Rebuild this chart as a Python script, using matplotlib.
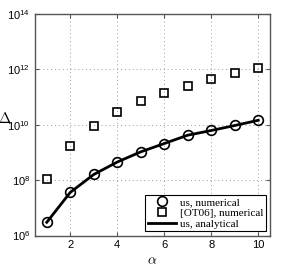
import numpy as np
import matplotlib
matplotlib.use("Agg")
import matplotlib.pyplot as plt
from matplotlib.ticker import LogLocator, NullLocator

alpha = [1, 2, 3, 4, 5, 6, 7, 8, 9, 10]
us_numerical = [3.0e6, 3.6e7, 1.6e8, 4.5e8, 1.05e9, 2.1e9, 4.2e9, 6.2e9, 9.4e9, 1.45e10]
ot06_numerical = [1.1e8, 1.7e9, 9.0e9, 2.8e10, 7.0e10, 1.45e11, 2.6e11, 4.5e11, 7.4e11, 1.1e12]
us_analytical = us_numerical

plt.rcParams["font.family"] = ["Liberation Sans", "DejaVu Sans"]
plt.rcParams["mathtext.fontset"] = "custom"
plt.rcParams["mathtext.rm"] = "Liberation Sans"
plt.rcParams["mathtext.it"] = "Liberation Sans:italic"

fig = plt.figure(figsize=(2.93, 2.78), dpi=100)
ax = fig.add_axes([35 / 293, 1 - 235.5 / 278, 235 / 293, 221.5 / 278])

ax.plot(alpha, us_numerical, "o", ms=7, mfc="none", mec="black", mew=1.2,
        label="us, numerical", zorder=3)
ax.plot(alpha, ot06_numerical, "s", ms=6, mfc="none", mec="black", mew=1.2,
        label="[OT06], numerical", zorder=3)
ax.plot(alpha, us_analytical, "-", color="black", lw=2, label="us, analytical")

ax.set_yscale("log")
ax.set_xlim(0.5, 10.5)
ax.set_ylim(1e6, 1e14)
ax.set_xticks([2, 4, 6, 8, 10])
ax.yaxis.set_major_locator(LogLocator(base=100))
ax.yaxis.set_minor_locator(NullLocator())
ax.grid(True, linestyle=(0, (1, 3)), color="#999999", lw=0.7)
ax.tick_params(direction="in", top=True, right=True, length=3, labelsize=8,
               color="#555555", pad=3.5)
for s in ax.spines.values():
    s.set_color("#555555")
    s.set_linewidth(1.0)

ax.set_xlabel(r"$\alpha$", fontsize=10, math_fontfamily="cm", labelpad=2)
ax.set_ylabel(r"$\Delta$", fontsize=10.5, math_fontfamily="cm", rotation=0,
              ha="right", va="center")
ax.yaxis.set_label_coords(-0.1, 0.53)

leg = ax.legend(loc="lower right", prop={"family": "Liberation Serif", "size": 8},
                fancybox=False, edgecolor="black", framealpha=1,
                borderpad=0.2, labelspacing=0.1, handlelength=2.6,
                handletextpad=0.3, borderaxespad=0.4)
leg.get_frame().set_linewidth(0.8)

fig.savefig("out.png", dpi=100)
